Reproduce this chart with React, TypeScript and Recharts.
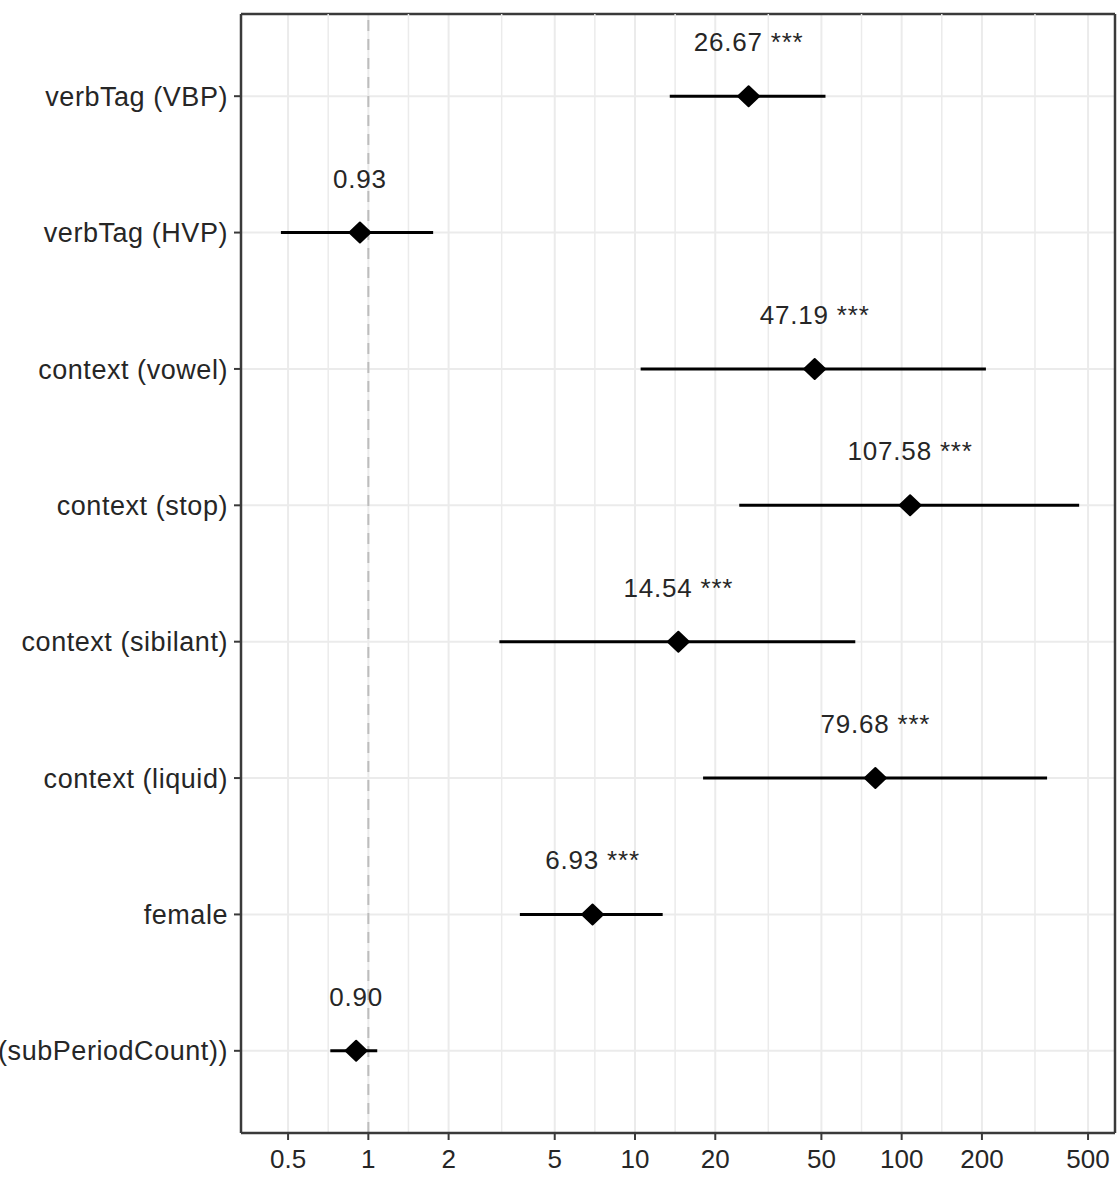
import { ScatterChart, Scatter, XAxis, YAxis, CartesianGrid, ReferenceLine, ErrorBar } from 'recharts';

// odds ratios with 95% CI
const terms = [
  'verbTag (VBP)',
  'verbTag (HVP)',
  'context (vowel)',
  'context (stop)',
  'context (sibilant)',
  'context (liquid)',
  'female',
  '(subPeriodCount))',
];
const estimates = [26.67, 0.93, 47.19, 107.58, 14.54, 79.68, 6.93, 0.9];
const lowerCI = [13.5, 0.47, 10.5, 24.6, 3.1, 18.0, 3.7, 0.72];
const upperCI = [51.8, 1.75, 207, 463, 67, 351, 12.7, 1.08];
const stars = ['***', '', '***', '***', '***', '***', '***', ''];

const xTicks = [0.5, 1, 2, 5, 10, 20, 50, 100, 200, 500];
const minorBreaks = [0.707, 1.414, 3.162, 7.071, 14.14, 31.62, 70.71, 141.4, 316.2];
const xDomain = [0.333, 631];

const data = terms.map((term, i) => ({
  term,
  est: estimates[i],
  err: [estimates[i] - lowerCI[i], upperCI[i] - estimates[i]],
  label: stars[i] ? `${estimates[i].toFixed(2)} ${stars[i]}` : estimates[i].toFixed(2),
}));

const textColor = '#262626';
const frameColor = '#3a3a3a';

const PointWithLabel = (props: any) => {
  const { cx, cy, payload } = props;
  return (
    <g>
      <polygon
        points={`${cx - 10.5},${cy} ${cx},${cy - 10} ${cx + 10.5},${cy} ${cx},${cy + 10}`}
        fill="#000"
        stroke="#000"
        strokeWidth={2}
        strokeLinejoin="round"
      />
      <text x={cx} y={cy - 45} textAnchor="middle" fontSize={26} letterSpacing={0.8} fill={textColor}>
        {payload.label}
      </text>
    </g>
  );
};

export default function App() {
  return (
    <div style={{ position: 'absolute', left: 0, top: 0, fontFamily: '"Liberation Sans", Arial, sans-serif', background: '#fff' }}>
      <ScatterChart width={1117} height={1180} margin={{ top: 14, right: 2, bottom: 0, left: 0 }}>
        <CartesianGrid stroke="#ebebeb" strokeWidth={2} />
        {minorBreaks.map((v) => (
          <ReferenceLine key={v} x={v} stroke="#ebebeb" strokeWidth={1.5} />
        ))}
        <ReferenceLine x={1} stroke="#bdbdbd" strokeWidth={2} strokeDasharray="11 8" />
        {/* top + right edges of the panel frame */}
        <CartesianGrid
          stroke={frameColor}
          strokeWidth={2.5}
          horizontalCoordinatesGenerator={({ offset }: any) => [offset.top]}
          verticalCoordinatesGenerator={({ offset }: any) => [offset.left + offset.width]}
        />
        <XAxis
          dataKey="est"
          type="number"
          scale="log"
          domain={xDomain}
          allowDataOverflow
          ticks={xTicks}
          tickFormatter={(v) => String(v)}
          height={47}
          tickSize={7}
          tickMargin={10}
          tick={{ fontSize: 26, fill: textColor }}
          axisLine={{ stroke: frameColor, strokeWidth: 2.5 }}
          tickLine={{ stroke: frameColor, strokeWidth: 2 }}
        />
        <YAxis
          dataKey="term"
          type="category"
          reversed
          width={241}
          padding={{ top: 14, bottom: 14 }}
          tickSize={7}
          tickMargin={6}
          tick={{ fontSize: 27, fill: textColor, letterSpacing: 0.55 }}
          axisLine={{ stroke: frameColor, strokeWidth: 2.5 }}
          tickLine={{ stroke: frameColor, strokeWidth: 2 }}
          interval={0}
        />
        <Scatter data={data} shape={<PointWithLabel />} isAnimationActive={false}>
          <ErrorBar dataKey="err" direction="x" width={0} stroke="#000" strokeWidth={3} />
        </Scatter>
      </ScatterChart>
    </div>
  );
}
